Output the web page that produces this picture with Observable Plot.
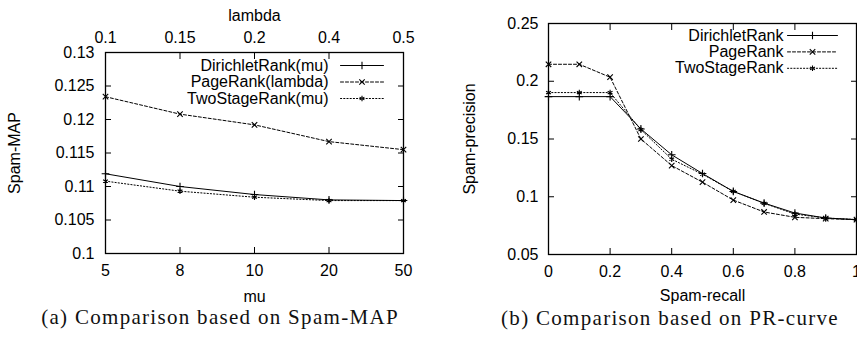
<!DOCTYPE html>
<html><head><meta charset="utf-8">
<script src="https://cdn.jsdelivr.net/npm/d3@7"></script>
<script src="https://cdn.jsdelivr.net/npm/@observablehq/plot@0.6"></script>
<style>
body{margin:0;background:#fff;width:857px;height:344px;overflow:hidden;position:relative}
#a,#b{position:absolute;top:0}
#a{left:0} #b{left:430px}
.cap{position:absolute;font-family:"Liberation Serif",serif;font-size:21px;white-space:nowrap;transform:translate(-50%,-50%);color:#111;letter-spacing:1.3px}
svg{overflow:visible}
svg text{font-family:"Liberation Sans",Arial,sans-serif !important}
</style></head><body>
<div id="a"></div><div id="b"></div>
<div class="cap" style="left:220px;top:317px">(a) Comparison based on Spam-MAP</div>
<div class="cap" style="left:670px;top:318px">(b) Comparison based on PR-curve</div>
<script>
// ---- Panel (a) data ----
const muLabels = ["5", "8", "10", "20", "50"];
const lambdaLabels = ["0.1", "0.15", "0.2", "0.4", "0.5"];
const mapDirichlet = [0.1119, 0.1100, 0.1088, 0.1080, 0.1079];
const mapPageRank  = [0.1234, 0.1208, 0.1192, 0.1167, 0.1155];
const mapTwoStage  = [0.1108, 0.1093, 0.1084, 0.1079, 0.1079];
const mapTicks = [0.1, 0.105, 0.11, 0.115, 0.12, 0.125, 0.13];
const legendA = ["DirichletRank(mu)", "PageRank(lambda)", "TwoStageRank(mu)"];

// ---- Panel (b) data ----
const recall = [0, 0.1, 0.2, 0.3, 0.4, 0.5, 0.6, 0.7, 0.8, 0.9, 1.0];
const prDirichlet = [0.1867, 0.1867, 0.1867, 0.1587, 0.1363, 0.1201, 0.1046, 0.0945, 0.0859, 0.0816, 0.0802];
const prPageRank  = [0.2147, 0.2147, 0.2035, 0.1500, 0.1270, 0.1126, 0.0971, 0.0868, 0.0822, 0.0810, 0.0802];
const prTwoStage  = [0.1902, 0.1902, 0.1902, 0.1581, 0.1325, 0.1195, 0.1046, 0.0943, 0.0850, 0.0816, 0.0802];
const precTicks = [0.05, 0.1, 0.15, 0.2, 0.25];
const recallTicks = [0, 0.2, 0.4, 0.6, 0.8, 1];
const legendB = ["DirichletRank", "PageRank", "TwoStageRank"];

const styles = [
  {dash: null, symbol: "plus"},
  {dash: "3,2", symbol: "times"},
  {dash: "1.2,2", symbol: "asterisk"}
];
const fmt = d => String(+d.toFixed(3));
const lineShape = {draw(context, l) { context.moveTo(0, 0); context.lineTo(0, -l); }};
const font = {fontFamily: "'Liberation Sans', Arial, sans-serif", fontSize: "16px", color: "#000", background: "#fff", overflow: "visible"};

function legendMarks(names, textDx, lineDx, lineLen, dy0, step) {
  const marks = [];
  names.forEach((name, s) => {
    const dy = dy0 + s * step;
    marks.push(Plot.text([name], {frameAnchor: "top-right", text: d => d, dx: textDx, dy, textAnchor: "end", lineAnchor: "middle", fill: "#000"}));
    marks.push(Plot.vector([name], {frameAnchor: "top-right", dx: lineDx, dy, length: lineLen, rotate: 90, anchor: "end", shape: lineShape, stroke: "#000", strokeWidth: 1, strokeDasharray: styles[s].dash}));
    marks.push(Plot.dot([name], {frameAnchor: "top-right", dx: lineDx - lineLen / 2, dy, symbol: styles[s].symbol, r: 2.6, stroke: "#000", strokeWidth: 1.1}));
  });
  return marks;
}

function seriesMarks(xs, ys, s) {
  const idx = xs.map((_, i) => i);
  return [
    Plot.line(idx, {x: i => xs[i], y: i => ys[i], stroke: "#000", strokeWidth: 1, strokeDasharray: styles[s].dash}),
    Plot.dot(idx, {x: i => xs[i], y: i => ys[i], symbol: styles[s].symbol, r: 2.6, stroke: "#000", strokeWidth: 1.1})
  ];
}

// ---- Panel (a) ----
const pos = muLabels.map((_, i) => i);
const plotA = Plot.plot({
  width: 430, height: 300,
  marginLeft: 105, marginRight: 27, marginTop: 52, marginBottom: 47,
  style: font,
  x: {type: "linear", domain: [0, pos.length - 1]},
  y: {domain: [0.1, 0.13]},
  marks: [
    Plot.axisY({ticks: mapTicks, tickSize: -6, fill: "none", label: null}),
    Plot.axisY({ticks: mapTicks, anchor: "right", tickSize: -6, fill: "none", label: null}),
    Plot.axisY({ticks: mapTicks, tickSize: 0, tickPadding: 11, tickFormat: fmt, label: "Spam-MAP", labelAnchor: "center", labelArrow: "none", labelOffset: 97}),
    Plot.axisX({ticks: pos, tickSize: -6, fill: "none", label: null}),
    Plot.axisX({ticks: pos, anchor: "top", tickSize: -6, fill: "none", label: null}),
    Plot.axisX({ticks: pos, tickSize: 0, tickPadding: 11, tickFormat: i => muLabels[i], label: "mu", labelAnchor: "center", labelArrow: "none", labelOffset: 48}),
    Plot.axisX({ticks: pos, anchor: "top", tickSize: 0, tickPadding: 10, tickFormat: i => lambdaLabels[i], label: "lambda", labelAnchor: "center", labelArrow: "none", labelOffset: 43}),
    ...seriesMarks(pos, mapDirichlet, 0),
    ...seriesMarks(pos, mapPageRank, 1),
    ...seriesMarks(pos, mapTwoStage, 2),
    ...legendMarks(legendA, -75, -20, 43, 13, 16.5),
    Plot.frame({stroke: "#000", strokeWidth: 1.3})
  ]
});
document.getElementById("a").append(plotA);

// ---- Panel (b) ----
const plotB = Plot.plot({
  width: 427, height: 300,
  marginLeft: 118, marginRight: 1, marginTop: 23, marginBottom: 46,
  style: font,
  x: {domain: [0, 1]},
  y: {domain: [0.05, 0.25]},
  marks: [
    Plot.axisY({ticks: precTicks, tickSize: -6, fill: "none", label: null}),
    Plot.axisY({ticks: precTicks, anchor: "right", tickSize: -6, fill: "none", label: null}),
    Plot.axisY({ticks: precTicks, tickSize: 0, tickPadding: 10, tickFormat: fmt, label: "Spam-precision", labelAnchor: "center", labelArrow: "none", labelOffset: 85}),
    Plot.axisX({ticks: recallTicks, tickSize: -6, fill: "none", label: null}),
    Plot.axisX({ticks: recallTicks, anchor: "top", tickSize: -6, fill: "none", label: null}),
    Plot.axisX({ticks: recallTicks, tickSize: 0, tickPadding: 11, tickFormat: fmt, label: "Spam-recall", labelAnchor: "center", labelArrow: "none", labelOffset: 46}),
    ...seriesMarks(recall, prDirichlet, 0),
    ...seriesMarks(recall, prPageRank, 1),
    ...seriesMarks(recall, prTwoStage, 2),
    ...legendMarks(legendB, -73, -19, 50, 12, 16.4),
    Plot.frame({stroke: "#000", strokeWidth: 1.3})
  ]
});
document.getElementById("b").append(plotB);
</script>
</body></html>
